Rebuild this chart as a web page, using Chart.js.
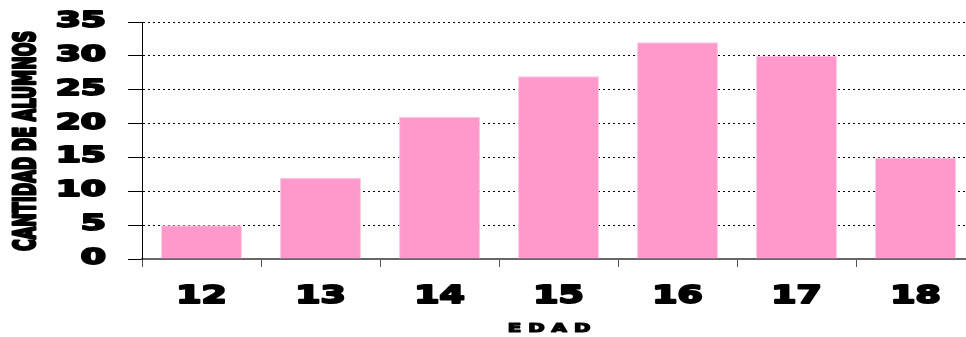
<!DOCTYPE html>
<html>
<head>
<meta charset="utf-8">
<script src="https://cdn.jsdelivr.net/npm/chart.js@4/dist/chart.umd.min.js"></script>
<style>
  html, body { margin: 0; padding: 0; background: #fff; overflow: hidden; }
  #wrap { width: 978px; height: 337px; }
</style>
</head>
<body>
<div id="wrap"><canvas id="chart"></canvas></div>
<script>
// Data
const edades = ['12', '13', '14', '15', '16', '17', '18'];
const alumnos = [5, 12, 21, 27, 32, 30, 15];
const yMax = 35;
const yStep = 5;
const yTitle = 'CANTIDAD DE ALUMNOS';
const xTitle = 'EDAD';

const FONT = '"DejaVu Sans", "Liberation Sans", sans-serif';

// heavy text: fill plus a thin stroke to fatten the strokes
function heavy(ctx, txt, x, y, lw) {
    ctx.lineWidth = lw;
    ctx.lineJoin = 'round';
    ctx.strokeText(txt, x, y);
    ctx.fillText(txt, x, y);
}

// The original uses very wide, heavy lettering; draw axis text stretched
const stretchedText = {
    id: 'stretchedText',
    afterDraw(chart) {
        const ctx = chart.ctx;
        const xs = chart.scales.x;
        const ys = chart.scales.y;
        ctx.save();
        ctx.fillStyle = '#000';
        ctx.strokeStyle = '#000';

        // y tick labels
        ctx.font = 'bold 21px ' + FONT;
        ctx.textAlign = 'right';
        ctx.textBaseline = 'alphabetic';
        ys.ticks.forEach(t => {
            const y = ys.getPixelForValue(t.value);
            ctx.save();
            ctx.translate(106, y + 5);
            ctx.scale(1.72, 1);
            heavy(ctx, String(t.value), 0, 0, 1.8);
            ctx.restore();
        });

        // x tick labels
        ctx.font = 'bold 25px ' + FONT;
        ctx.textAlign = 'center';
        edades.forEach((lab, i) => {
            const x = xs.getPixelForValue(i);
            ctx.save();
            ctx.translate(x, 303);
            ctx.scale(1.45, 1);
            heavy(ctx, lab, 0, 0, 2);
            ctx.restore();
        });

        // y title, squeezed along its length
        ctx.font = 'bold 30px ' + FONT;
        const w = ctx.measureText(yTitle).width;
        ctx.save();
        ctx.translate(24, 141);
        ctx.rotate(-Math.PI / 2);
        ctx.scale(220 / w, 1);
        ctx.textAlign = 'center';
        heavy(ctx, yTitle, 0, 11, 3);
        ctx.restore();

        // x title, wide and letter spaced
        ctx.font = 'bold 12px ' + FONT;
        ctx.textAlign = 'left';
        const sx = 1.65, gap = 7;
        const widths = xTitle.split('').map(c => ctx.measureText(c).width * sx);
        const total = widths.reduce((a, b) => a + b, 0) + gap * (widths.length - 1);
        let cx = 549 - total / 2;
        xTitle.split('').forEach((c, i) => {
            ctx.save();
            ctx.translate(cx, 332);
            ctx.scale(sx, 1);
            heavy(ctx, c, 0, 0, 1.2);
            ctx.restore();
            cx += widths[i] + gap;
        });

        ctx.restore();
    }
};

new Chart(document.getElementById('chart'), {
    type: 'bar',
    data: {
        labels: edades,
        datasets: [{
            label: xTitle,
            data: alumnos,
            backgroundColor: '#ff99cc',
            borderColor: '#ffc6e2',
            borderWidth: 1,
            barPercentage: 0.68,
            categoryPercentage: 1
        }]
    },
    options: {
        responsive: true,
        maintainAspectRatio: false,
        animation: false,
        layout: { padding: { top: 22, right: 3, left: 0, bottom: 0 } },
        plugins: {
            legend: { display: false },
            tooltip: { enabled: false }
        },
        scales: {
            x: {
                afterFit: s => { s.height = 78; },
                grid: {
                    offset: true,
                    drawOnChartArea: false,
                    tickLength: 8,
                    tickColor: '#555',
                    color: '#555'
                },
                border: { display: true, color: '#666', width: 2 },
                ticks: { display: false }
            },
            y: {
                min: 0,
                max: yMax,
                afterFit: s => { s.width = 142; },
                ticks: { stepSize: yStep, display: false },
                grid: {
                    color: '#000',
                    lineWidth: 1,
                    tickLength: 14,
                    tickColor: '#000',
                    tickBorderDash: []
                },
                border: { display: true, color: '#000', width: 1, dash: [2, 3] }
            }
        }
    },
    plugins: [stretchedText]
});
</script>
</body>
</html>
